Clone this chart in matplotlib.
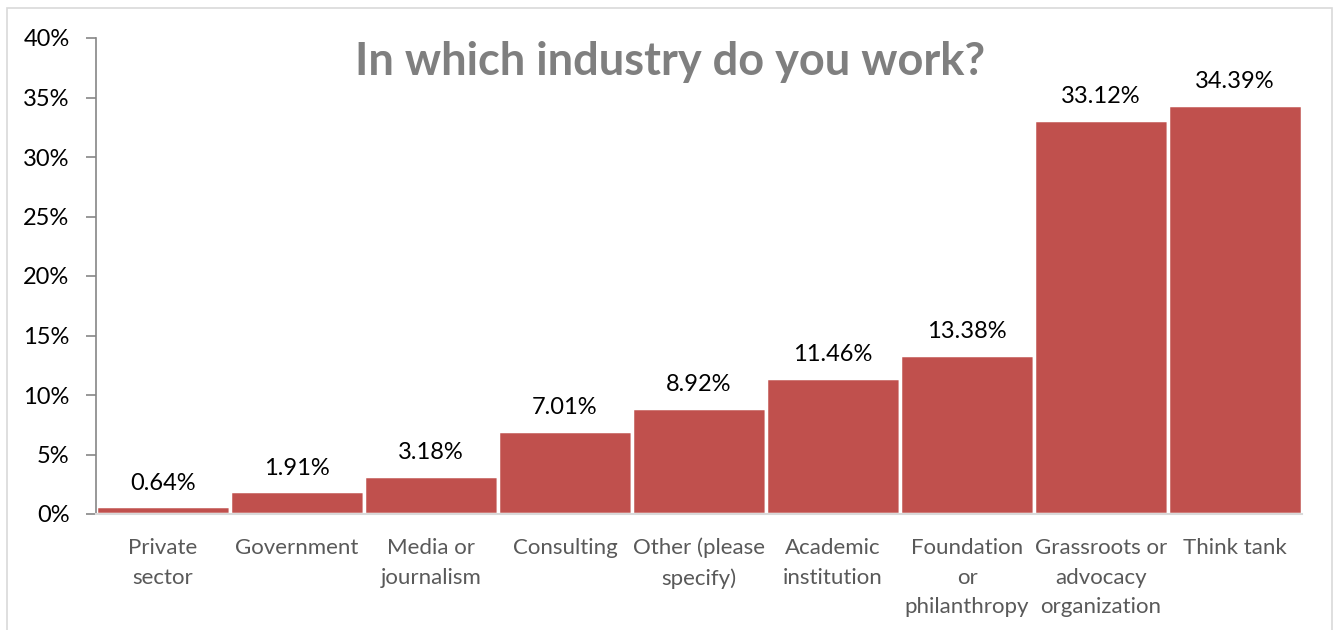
import matplotlib
matplotlib.use("Agg")
import matplotlib.pyplot as plt
from matplotlib.patches import Rectangle
from matplotlib.ticker import MultipleLocator, FuncFormatter

categories = ["Private\nsector", "Government", "Media or\njournalism", "Consulting",
              "Other (please\nspecify)", "Academic\ninstitution", "Foundation\nor\nphilanthropy",
              "Grassroots or\nadvocacy\norganization", "Think tank"]
shares = [0.64, 1.91, 3.18, 7.01, 8.92, 11.46, 13.38, 33.12, 34.39]

plt.rcParams["font.family"] = ["Lato", "DejaVu Sans"]

fig = plt.figure(figsize=(13.33, 6.30), dpi=100)
ax = fig.add_axes([96 / 1333, 1 - 514 / 630, (1302 - 96) / 1333, (514 - 38) / 630])

x = list(range(len(categories)))
bars = ax.bar(x, shares, width=1.0, color="#C0504D", edgecolor="white", linewidth=2.5)

for b, v in zip(bars, shares):
    ax.annotate(f"{v:.2f}%", (b.get_x() + b.get_width() / 2, v),
                xytext=(0, 12), textcoords="offset points",
                ha="center", va="baseline", fontsize=17, color="#000000")

ax.set_xlim(-0.5, len(categories) - 0.5)
ax.set_ylim(0, 40)
ax.yaxis.set_major_locator(MultipleLocator(5))
ax.yaxis.set_major_formatter(FuncFormatter(lambda v, p: f"{v:.0f}%"))
ax.set_xticks(x)
ax.set_xticklabels(categories, fontsize=16, color="#595959", linespacing=1.62, va="top")
ax.tick_params(axis="x", length=0, pad=17)
ax.tick_params(axis="y", length=7, width=1.2, color="#868686", labelsize=17,
               labelcolor="#000000", pad=12, direction="out")

for s in ("top", "right"):
    ax.spines[s].set_visible(False)
ax.spines["left"].set_color("#868686")
ax.spines["left"].set_linewidth(1.2)
ax.spines["bottom"].set_color("#d9d9d9")
ax.spines["bottom"].set_linewidth(1.5)

fig.text(670 / 1333, 1 - 62 / 630, "In which industry do you work?", ha="center", va="center",
         fontsize=32.5, fontweight="bold", color="#7f7f7f")

fig.patches.append(Rectangle((7 / 1333, -0.05), (1332 - 7) / 1333, 1.05 - 8 / 630,
                             transform=fig.transFigure, fill=False,
                             edgecolor="#d9d9d9", linewidth=1.2))

fig.savefig("out.png", dpi=100, facecolor="white")
